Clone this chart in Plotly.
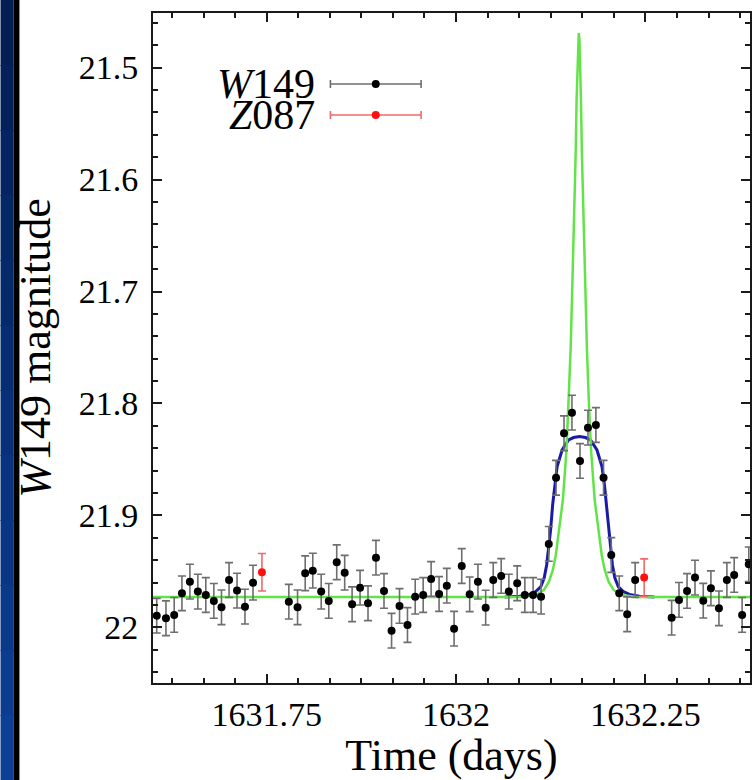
import plotly.graph_objects as go

# ---------------- data ----------------
w149_t = [1631.6049, 1631.6171, 1631.6280, 1631.6382, 1631.6487, 1631.6592, 1631.6697,
          1631.6803, 1631.6904, 1631.7004, 1631.7109, 1631.7214, 1631.7320,
          1631.7793, 1631.7908, 1631.8009, 1631.8109, 1631.8220, 1631.8320, 1631.8425,
          1631.8530, 1631.8628, 1631.8733, 1631.8838, 1631.8943, 1631.9049, 1631.9149,
          1631.9254, 1631.9359, 1631.9461, 1631.9566, 1631.9671, 1631.9776, 1631.9878,
          1631.9974, 1632.0075, 1632.0180, 1632.0289, 1632.0391, 1632.0491, 1632.0596,
          1632.0697, 1632.0807, 1632.0908, 1632.1017, 1632.1122, 1632.1224, 1632.1320,
          1632.1425, 1632.1530, 1632.1636, 1632.1741, 1632.1846, 1632.1947, 1632.2049,
          1632.2154, 1632.2259, 1632.2364,
          1632.2846, 1632.2943, 1632.3049, 1632.3154, 1632.3263, 1632.3364, 1632.3470,
          1632.3575, 1632.3671, 1632.3776, 1632.3864]
w149_mag = [21.9895, 21.9918, 21.9888, 21.9695, 21.9591, 21.9680, 21.9710,
            21.9763, 21.9820, 21.9576, 21.9671, 21.9814, 21.9600,
            21.9770, 21.9820, 21.9516, 21.9493, 21.9680, 21.9763, 21.9418,
            21.9511, 21.9793, 21.9645, 21.9784, 21.9377, 21.9674, 22.0029,
            21.9808, 21.9978, 21.9725, 21.9710, 21.9567, 21.9701, 21.9627,
            22.0011, 21.9451, 21.9704, 21.9591, 21.9823, 21.9576, 21.9540,
            21.9680, 21.9605, 21.9710, 21.9710, 21.9725, 21.9254, 21.8663,
            21.8266, 21.8082, 21.8513, 21.8216, 21.8192, 21.8663, 21.9353,
            21.9695, 21.9882, 21.9576,
            21.9913, 21.9754, 21.9674, 21.9555, 21.9761, 21.9650, 21.9829,
            21.9576, 21.9531, 21.9888, 21.9436]
w149_err = 0.0155

z087_t = [1631.7438, 1632.2483]
z087_mag = [21.9507, 21.9555]
z087_err = 0.0167

# broad (blue) model
blue_t = [1632.0643, 1632.0841, 1632.0972, 1632.1051, 1632.1117, 1632.1163, 1632.1196,
          1632.1222, 1632.1248, 1632.1275, 1632.1301, 1632.1334, 1632.1400, 1632.1485,
          1632.1551, 1632.1630, 1632.1709, 1632.1775, 1632.1860, 1632.1926, 1632.1959,
          1632.1985, 1632.2012, 1632.2038, 1632.2064, 1632.2097, 1632.2143, 1632.2209,
          1632.2288, 1632.2419, 1632.2617]
blue_mag = [21.9728, 21.9721, 21.9705, 21.9679, 21.9638, 21.9558, 21.9442,
            21.9308, 21.9129, 21.8906, 21.8728, 21.8564, 21.8415, 21.8326,
            21.8304, 21.8296, 21.8304, 21.8326, 21.8415, 21.8564, 21.8728,
            21.8906, 21.9129, 21.9308, 21.9442, 21.9558, 21.9638, 21.9679,
            21.9705, 21.9721, 21.9728]

# narrow (green) model
green_t = [1631.6000, 1632.0857, 1632.1054, 1632.1160, 1632.1225, 1632.1278, 1632.1317,
           1632.1363, 1632.1410, 1632.1458, 1632.1488, 1632.1512, 1632.1530, 1632.1548,
           1632.1565, 1632.1580, 1632.1591, 1632.1603, 1632.1611, 1632.1620, 1632.1629,
           1632.1637, 1632.1649, 1632.1660, 1632.1675, 1632.1692, 1632.1710, 1632.1728,
           1632.1752, 1632.1782, 1632.1830, 1632.1877, 1632.1923, 1632.1962, 1632.2015,
           1632.2080, 1632.2186, 1632.2383, 1632.4000]
green_mag = [21.9728, 21.9728, 21.9710, 21.9665, 21.9594, 21.9487, 21.9353,
             21.9129, 21.8862, 21.8415, 21.7969, 21.7522, 21.7076, 21.6629,
             21.6183, 21.5737, 21.5290, 21.4933, 21.4754, 21.4692, 21.4754,
             21.4933, 21.5290, 21.5737, 21.6183, 21.6629, 21.7076, 21.7522,
             21.7969, 21.8415, 21.8862, 21.9129, 21.9353, 21.9487, 21.9594,
             21.9665, 21.9710, 21.9728, 21.9728]

x_tickvals = [1631.75, 1632.0, 1632.25]
x_ticktext = ["1631.75", "1632", "1632.25"]
y_tickvals = [21.5, 21.6, 21.7, 21.8, 21.9, 22.0]
y_ticktext = ["21.5", "21.6", "21.7", "21.8", "21.9", "22"]
legend_labels = ["<i>W</i>149", "<i>Z</i>087"]

FONT = "Liberation Serif"

fig = go.Figure()
fig.add_trace(go.Scatter(x=blue_t, y=blue_mag, mode="lines",
                         line=dict(color="#1a1aa8", width=3), showlegend=False))
fig.add_trace(go.Scatter(x=green_t, y=green_mag, mode="lines",
                         line=dict(color="#62e448", width=2.5), showlegend=False))
fig.add_trace(go.Scatter(x=w149_t, y=w149_mag, mode="markers",
                         marker=dict(color="black", size=8),
                         error_y=dict(type="constant", value=w149_err, color="#6e6e6e",
                                      thickness=1.6, width=4),
                         showlegend=False))
fig.add_trace(go.Scatter(x=z087_t, y=z087_mag, mode="markers",
                         marker=dict(color="#ff1010", size=8),
                         error_y=dict(type="constant", value=z087_err, color="#f06a6a",
                                      thickness=1.6, width=4),
                         showlegend=False))

W, H = 752, 780
L, R, T, B = 153, 0, 13, 97
pw, ph = W - L - R, H - T - B

def px(xp):
    return (xp - L) / pw

def py(yp):
    return (H - B - yp) / ph

shapes = []
# left decorative strip (blue gradient + black bar)
n = 12
for i in range(n):
    f = i / (n - 1)
    r = int(2 + f * 10)
    g = int(30 + f * 34)
    b = int(84 + f * 66)
    shapes.append(dict(type="rect", xref="paper", yref="paper",
                       x0=px(0), x1=px(13), y0=py(H * (i + 1) / n + 1), y1=py(H * i / n),
                       fillcolor=f"rgb({r},{g},{b})", line=dict(width=0), layer="above"))
shapes.append(dict(type="rect", xref="paper", yref="paper",
                   x0=px(13), x1=px(19), y0=py(H + 1), y1=py(-1),
                   fillcolor="black", line=dict(width=0), layer="above"))

# legend glyphs
leg_rows = [(84, "#6e6e6e", "black"), (115, "#f06a6a", "#ff1010")]
for yrow, lc, mc in leg_rows:
    shapes.append(dict(type="line", xref="paper", yref="paper",
                       x0=px(331), x1=px(422), y0=py(yrow), y1=py(yrow),
                       line=dict(color=lc, width=1.6)))
    for xc in (331, 422):
        shapes.append(dict(type="line", xref="paper", yref="paper",
                           x0=px(xc), x1=px(xc), y0=py(yrow - 4), y1=py(yrow + 4),
                           line=dict(color=lc, width=1.6)))
    shapes.append(dict(type="circle", xref="paper", yref="paper",
                       x0=px(376.5 - 4), x1=px(376.5 + 4),
                       y0=py(yrow + 4), y1=py(yrow - 4),
                       fillcolor=mc, line=dict(width=0)))

annotations = []
for lab, yrow in zip(legend_labels, (84, 115)):
    annotations.append(dict(text=lab, xref="paper", yref="paper", x=px(318), y=py(yrow),
                            xanchor="right", yanchor="middle", showarrow=False,
                            font=dict(family=FONT, size=42, color="black")))

axis_common = dict(showline=True, linecolor="#1a1a1a", linewidth=2, mirror="allticks",
                   ticks="inside", ticklen=9, tickwidth=1.5, tickcolor="#1a1a1a",
                   showgrid=False, zeroline=False,
                   tickfont=dict(family=FONT, size=34, color="black"))

fig.update_layout(
    width=W, height=H,
    margin=dict(l=L, r=R, t=T, b=B),
    paper_bgcolor="white", plot_bgcolor="white",
    shapes=shapes, annotations=annotations,
    xaxis=dict(range=[1631.6, 1632.388], tickvals=x_tickvals, ticktext=x_ticktext,
               minor=dict(dtick=1 / 24, tick0=1631.75, ticks="inside", ticklen=5,
                          tickwidth=1.5, tickcolor="#1a1a1a", showgrid=False),
               title=dict(text="Time (days)", font=dict(family=FONT, size=44, color="black"),
                          standoff=6),
               **axis_common),
    yaxis=dict(range=[22.0496, 21.4513], tickvals=y_tickvals, ticktext=y_ticktext,
               minor=dict(dtick=0.02, tick0=21.5, ticks="inside", ticklen=5,
                          tickwidth=1.5, tickcolor="#1a1a1a", showgrid=False),
               title=dict(text="<i>W</i>149 magnitude",
                          font=dict(family=FONT, size=44, color="black"), standoff=14),
               ticklabelstandoff=6,
               **axis_common),
)

fig.write_html("out.html")
